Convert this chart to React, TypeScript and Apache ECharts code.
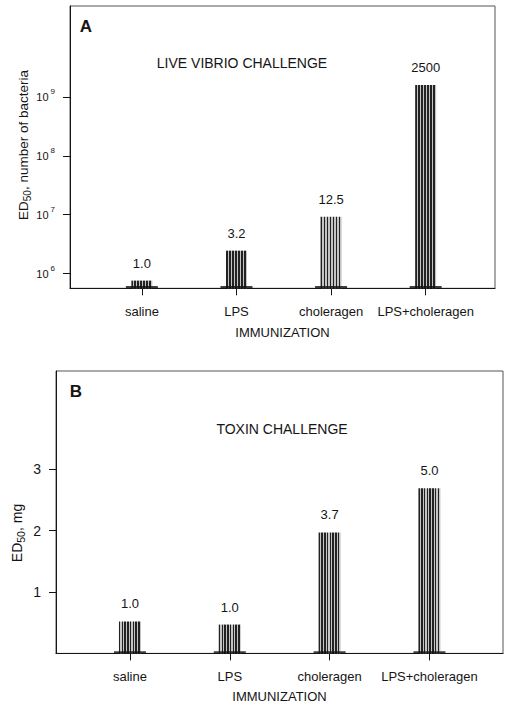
import React, { useEffect, useRef } from 'react';
import * as echarts from 'echarts';

// ---- data ----
const categories = ['saline', 'LPS', 'choleragen', 'LPS+choleragen'];
// Panel A: live vibrio challenge, ED50 in number of bacteria (log scale)
const vibrioED50 = [7.6e5, 2.45e6, 9.2e6, 1.59e9];
const vibrioRatio = ['1.0', '3.2', '12.5', '2500'];
const vibrioTickExponents = [6, 7, 8, 9];
// Panel B: toxin challenge, ED50 in mg
const toxinED50 = [0.52, 0.47, 1.97, 2.69];
const toxinRatio = ['1.0', '1.0', '3.7', '5.0'];
const toxinTicks = [1, 2, 3];
const categoryPositions = [0, 1, 2, 3];

const FONT = "'Liberation Sans', Arial, Helvetica, sans-serif";
const INK = '#151515';

const A_YMIN = 5.75;
const A_YMAX = 10.543;
const B_YMIN = 0;
const B_YMAX = 4.6;

function stripes(n: number, dark: string, light: string, frac: number) {
  const stops: { offset: number; color: string }[] = [];
  for (let i = 0; i < n; i++) {
    const a = i / n;
    const b = (i + frac) / n;
    const c = (i + 1) / n;
    stops.push({ offset: a, color: dark }, { offset: b, color: dark }, { offset: b, color: light }, { offset: c, color: light });
  }
  return new echarts.graphic.LinearGradient(0, 0, 1, 0, stops);
}

const supRich = {
  b: { fontSize: 11, fontFamily: FONT, color: INK, verticalAlign: 'bottom', lineHeight: 12 },
  s: { fontSize: 8, fontFamily: FONT, color: INK, verticalAlign: 'bottom', lineHeight: 9, padding: [0, 0, 7, 2] },
};

function xAxisFor(gridIndex: number, min: number, max: number, nameGap: number) {
  return {
    gridIndex,
    type: 'value',
    min,
    max,
    splitLine: { show: false },
    axisLine: { show: true, onZero: false, lineStyle: { color: INK, width: 1 } },
    axisTick: { show: true, customValues: categoryPositions, length: 7, lineStyle: { color: INK, width: 1 } },
    axisLabel: {
      show: true,
      customValues: categoryPositions,
      formatter: (v: number) => categories[Math.round(v)] ?? '',
      margin: 17,
      fontSize: 13,
      color: INK,
      fontFamily: FONT,
    },
    name: 'IMMUNIZATION',
    nameLocation: 'middle',
    nameGap,
    nameTextStyle: { fontSize: 13, color: INK, fontFamily: FONT },
  };
}

export default function App() {
  const ref = useRef<HTMLDivElement>(null);
  useEffect(() => {
    document.body.style.margin = '0';
    if (!ref.current) return;
    const chart = echarts.init(ref.current, undefined, { renderer: 'svg' });
    const barA = stripes(7, '#222222', '#c4c4c4', 0.55);
    const barB = stripes(8, '#222222', '#c4c4c4', 0.55);
    const option = {
      animation: false,
      backgroundColor: '#ffffff',
      grid: [
        { left: 70, top: 6, width: 425, height: 282.3, show: true, borderColor: '#555', borderWidth: 1 },
        { left: 56, top: 371, width: 447, height: 282.4, show: true, borderColor: '#555', borderWidth: 1 },
      ],
      xAxis: [xAxisFor(0, -0.76, 3.733, 38), xAxisFor(1, -0.741, 3.737, 37)],
      yAxis: [
        {
          gridIndex: 0,
          type: 'value',
          min: A_YMIN,
          max: A_YMAX,
          splitLine: { show: false },
          axisLine: { show: true, onZero: false, lineStyle: { color: INK, width: 1 } },
          axisTick: { show: true, customValues: vibrioTickExponents, length: 7, lineStyle: { color: INK } },
          axisLabel: {
            customValues: vibrioTickExponents,
            formatter: (v: number) => `{b|10}{s|${Math.round(v)}}`,
            rich: supRich,
            margin: 15,
          },
        },
        {
          gridIndex: 1,
          type: 'value',
          min: B_YMIN,
          max: B_YMAX,
          splitLine: { show: false },
          axisLine: { show: true, onZero: false, lineStyle: { color: INK, width: 1 } },
          axisTick: { show: true, customValues: toxinTicks, length: 7, lineStyle: { color: INK } },
          axisLabel: {
            customValues: toxinTicks,
            formatter: (v: number) => String(Math.round(v)),
            fontSize: 14,
            color: INK,
            fontFamily: FONT,
            margin: 15,
          },
        },
      ],
      series: [
        {
          type: 'bar',
          xAxisIndex: 0,
          yAxisIndex: 0,
          barWidth: 21,
          data: vibrioED50.map((v, i) => [categoryPositions[i], Math.log10(v)]),
          itemStyle: { color: barA },
          label: {
            show: true,
            position: 'top',
            distance: 11,
            formatter: (p: any) => vibrioRatio[p.dataIndex],
            fontSize: 13,
            color: INK,
            fontFamily: FONT,
          },
        },
        {
          type: 'scatter',
          xAxisIndex: 0,
          yAxisIndex: 0,
          symbol: 'rect',
          symbolSize: [32, 2.5],
          symbolOffset: [0, -1],
          itemStyle: { color: '#111' },
          data: categoryPositions.map((i) => [i, A_YMIN]),
          clip: false,
          z: 5,
        },
        {
          type: 'bar',
          xAxisIndex: 1,
          yAxisIndex: 1,
          barWidth: 22,
          data: toxinED50.map((v, i) => [categoryPositions[i], v]),
          itemStyle: { color: barB },
          label: {
            show: true,
            position: 'top',
            distance: 11,
            formatter: (p: any) => toxinRatio[p.dataIndex],
            fontSize: 13,
            color: INK,
            fontFamily: FONT,
          },
        },
        {
          type: 'scatter',
          xAxisIndex: 1,
          yAxisIndex: 1,
          symbol: 'rect',
          symbolSize: [32, 2.5],
          symbolOffset: [0, -1],
          itemStyle: { color: '#111' },
          data: categoryPositions.map((i) => [i, B_YMIN]),
          clip: false,
          z: 5,
        },
      ],
      graphic: [
        { type: 'text', x: 86, y: 26, style: { text: 'A', fontSize: 17, fontWeight: 'bold', fontFamily: FONT, fill: INK, align: 'center', verticalAlign: 'middle' } },
        { type: 'text', x: 242, y: 63, style: { text: 'LIVE VIBRIO CHALLENGE', fontSize: 14, fontFamily: FONT, fill: INK, align: 'center', verticalAlign: 'middle' } },
        { type: 'text', x: 76, y: 391, style: { text: 'B', fontSize: 17, fontWeight: 'bold', fontFamily: FONT, fill: INK, align: 'center', verticalAlign: 'middle' } },
        { type: 'text', x: 282, y: 429, style: { text: 'TOXIN CHALLENGE', fontSize: 14, fontFamily: FONT, fill: INK, align: 'center', verticalAlign: 'middle' } },
        {
          type: 'text',
          x: 23,
          y: 145,
          rotation: Math.PI / 2,
          style: {
            text: '{m|ED}{s|50}{m|, number of bacteria}',
            rich: {
              m: { fontSize: 13.5, fontFamily: FONT, fill: INK, color: INK, verticalAlign: 'top', lineHeight: 14 },
              s: { fontSize: 10, fontFamily: FONT, fill: INK, color: INK, verticalAlign: 'top', lineHeight: 10, padding: [6, 0, 0, 0] },
            },
            align: 'center',
            verticalAlign: 'middle',
          },
        },
        {
          type: 'text',
          x: 17,
          y: 533,
          rotation: Math.PI / 2,
          style: {
            text: '{m|ED}{s|50}{m|, mg}',
            rich: {
              m: { fontSize: 14, fontFamily: FONT, fill: INK, color: INK, verticalAlign: 'top', lineHeight: 15 },
              s: { fontSize: 10.5, fontFamily: FONT, fill: INK, color: INK, verticalAlign: 'top', lineHeight: 10, padding: [6, 0, 0, 0] },
            },
            align: 'center',
            verticalAlign: 'middle',
          },
        },
      ],
    };
    chart.setOption(option as any);
    return () => chart.dispose();
  }, []);
  return <div ref={ref} style={{ position: 'absolute', left: 0, top: 0, width: 516, height: 707, background: '#fff' }} />;
}
